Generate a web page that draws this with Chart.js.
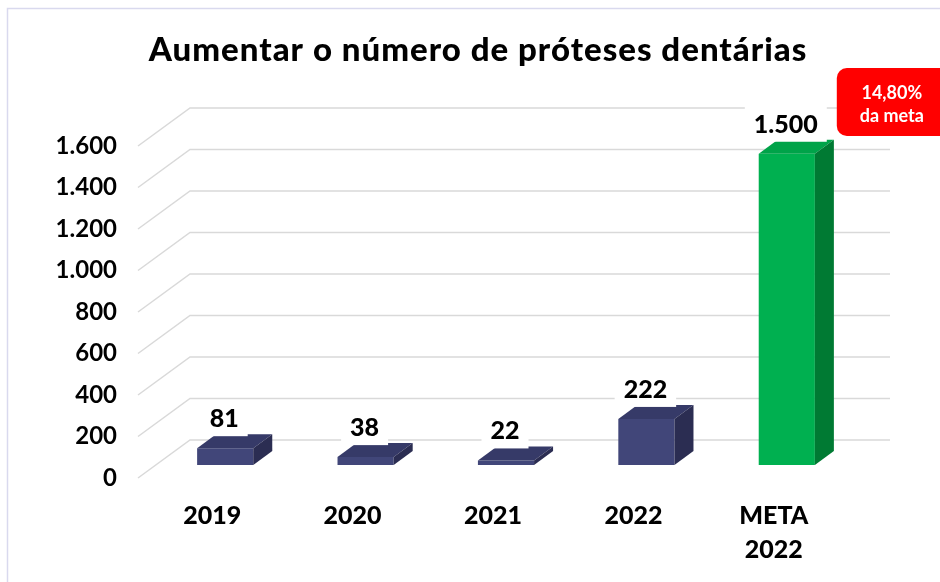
<!DOCTYPE html>
<html><head><meta charset="utf-8">
<script src="https://cdn.jsdelivr.net/npm/chart.js@4/dist/chart.umd.min.js"></script>
<style>html,body{margin:0;padding:0;background:#fff;overflow:hidden}</style>
</head><body>
<canvas id="c" width="940" height="582" style="width:940px;height:582px;display:block"></canvas>
<script>
const titleText = 'Aumentar o número de próteses dentárias';
const categories = [['2019'], ['2020'], ['2021'], ['2022'], ['META', '2022']];
const values = [81, 38, 22, 222, 1500];
const dataLabels = ['81', '38', '22', '222', '1.500'];
const tickValues = [0, 200, 400, 600, 800, 1000, 1200, 1400, 1600];
const tickLabels = ['0', '200', '400', '600', '800', '1.000', '1.200', '1.400', '1.600'];
const calloutLines = ['14,80%', 'da meta'];

const frontColors = ['#414679', '#414679', '#414679', '#414679', '#00B050'];
const topColors = ['#363a68', '#363a68', '#363a68', '#363a68', '#00a349'];
const sideColors = ['#2b2d52', '#2b2d52', '#2b2d52', '#2b2d52', '#007a33'];

const DX = 19, DY = 14;
const FONT = 'Lato, "Open Sans", sans-serif';

const threeD = {
  id: 'threeD',
  beforeDraw(chart) {
    const ctx = chart.ctx;
    ctx.save();
    ctx.fillStyle = '#ffffff';
    ctx.fillRect(0, 0, chart.width, chart.height);
    ctx.strokeStyle = '#d9d9ee';
    ctx.lineWidth = 1.5;
    ctx.beginPath();
    ctx.moveTo(7.5, chart.height);
    ctx.lineTo(7.5, 8.5);
    ctx.lineTo(chart.width, 8.5);
    ctx.stroke();
    // title
    ctx.fillStyle = '#000';
    ctx.font = '900 33px ' + FONT;
    try { ctx.letterSpacing = '1px'; } catch (e) {}
    ctx.textAlign = 'center';
    ctx.textBaseline = 'middle';
    ctx.fillText(titleText, 478, 50);
    try { ctx.letterSpacing = '0px'; } catch (e) {}
    ctx.restore();
  },
  beforeDatasetsDraw(chart) {
    const ctx = chart.ctx, ys = chart.scales.y, area = chart.chartArea;
    ctx.save();
    ctx.strokeStyle = '#d9d9d9';
    ctx.lineWidth = 1.5;
    const backX = area.left + 35, frontX = area.left - 17, rightX = area.right + 33;
    tickValues.forEach(v => {
      const y = ys.getPixelForValue(v);
      ctx.beginPath();
      ctx.moveTo(frontX, y + 13);
      ctx.lineTo(backX, y - 25);
      ctx.lineTo(rightX, y - 25);
      ctx.stroke();
    });
    ctx.restore();
  },
  afterDatasetsDraw(chart) {
    const ctx = chart.ctx;
    const meta = chart.getDatasetMeta(0);
    ctx.save();
    meta.data.forEach((bar, i) => {
      const w = bar.width, l = bar.x - w / 2, r = bar.x + w / 2, t = bar.y, b = bar.base;
      ctx.fillStyle = topColors[i];
      ctx.beginPath();
      ctx.moveTo(l, t); ctx.lineTo(l + DX, t - DY); ctx.lineTo(r + DX, t - DY); ctx.lineTo(r, t);
      ctx.closePath(); ctx.fill();
      ctx.fillStyle = sideColors[i];
      ctx.beginPath();
      ctx.moveTo(r, t); ctx.lineTo(r + DX, t - DY); ctx.lineTo(r + DX, b - DY); ctx.lineTo(r, b);
      ctx.closePath(); ctx.fill();
    });
    ctx.font = '900 25px ' + FONT;
    ctx.textAlign = 'center';
    ctx.textBaseline = 'middle';
    meta.data.forEach((bar, i) => {
      const cx = bar.x - 1, cy = bar.y - 30;
      const tw = ctx.measureText(dataLabels[i]).width;
      ctx.fillStyle = '#ffffff';
      ctx.fillRect(cx - tw / 2 - 9, cy - 17, tw + 18, 35);
      ctx.fillStyle = '#000';
      ctx.fillText(dataLabels[i], cx, cy + 1);
    });
    const last = meta.data[meta.data.length - 1];
    const bx = last.x + 50, by = 68, bw = 115, bh = 68;
    ctx.fillStyle = '#ff0000';
    ctx.beginPath();
    ctx.roundRect(bx, by, bw, bh, 10);
    ctx.fill();
    ctx.fillStyle = '#ffffff';
    ctx.font = 'bold 18px ' + FONT;
    ctx.fillText(calloutLines[0], bx + 55, by + 25);
    ctx.fillText(calloutLines[1], bx + 55, by + 48);
    ctx.restore();
  }
};

new Chart(document.getElementById('c'), {
  type: 'bar',
  data: {
    labels: categories,
    datasets: [{
      data: values,
      backgroundColor: frontColors,
      borderWidth: 0,
      barPercentage: 0.8,
      categoryPercentage: 0.5
    }]
  },
  options: {
    responsive: false,
    animation: false,
    devicePixelRatio: 1,
    layout: { padding: { left: 0, right: 83, top: 133, bottom: 0 } },
    plugins: { legend: { display: false }, tooltip: { enabled: false }, title: { display: false } },
    scales: {
      x: {
        grid: { display: false, drawTicks: false },
        border: { display: false },
        ticks: {
          color: '#000',
          font: { family: FONT, size: 25, weight: '900', lineHeight: 1.36 },
          padding: 34,
          labelOffset: -13,
          maxRotation: 0,
          autoSkip: false
        },
        afterFit(scale) { scale.height = 117; }
      },
      y: {
        min: 0, max: 1600,
        grid: { display: false, drawTicks: false },
        border: { display: false },
        ticks: {
          stepSize: 200,
          color: '#000',
          font: { family: FONT, size: 24, weight: 'bold' },
          padding: 38,
          labelOffset: 13,
          callback: (v) => { const k = tickValues.indexOf(v); return k >= 0 ? tickLabels[k] : ''; }
        },
        afterFit(scale) { scale.width = 155; }
      }
    }
  },
  plugins: [threeD]
});
</script>
</body></html>
